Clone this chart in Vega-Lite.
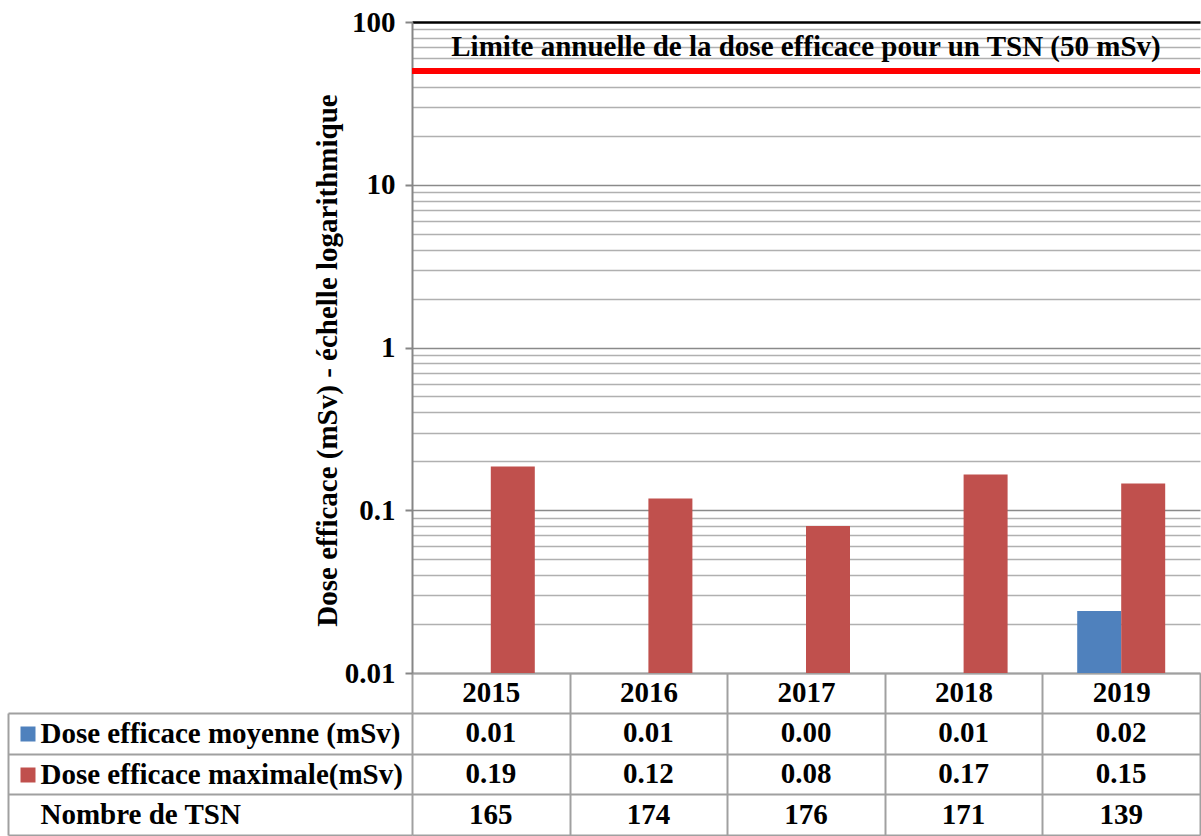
{
  "$schema": "https://vega.github.io/schema/vega-lite/v6.json",
  "padding": {"left": 7, "top": 8, "right": 0, "bottom": 0},
  "spacing": 40,
  "bounds": "flush",
  "resolve": {"scale": {"color": "independent"}, "legend": {"color": "independent"}},
  "config": {
    "font": "Liberation Serif",
    "view": {"stroke": null},
    "axis": {"labelFont": "Liberation Serif", "titleFont": "Liberation Serif", "labelFontWeight": "bold", "titleFontWeight": "bold", "labelColor": "black", "titleColor": "black"}
  },
  "datasets": {
    "doses": [
      {"annee": "2015", "serie": "Dose efficace moyenne (mSv)", "dose": 0.01},
      {"annee": "2015", "serie": "Dose efficace maximale(mSv)", "dose": 0.186},
      {"annee": "2016", "serie": "Dose efficace moyenne (mSv)", "dose": 0.01},
      {"annee": "2016", "serie": "Dose efficace maximale(mSv)", "dose": 0.118},
      {"annee": "2017", "serie": "Dose efficace moyenne (mSv)", "dose": 0.004},
      {"annee": "2017", "serie": "Dose efficace maximale(mSv)", "dose": 0.08},
      {"annee": "2018", "serie": "Dose efficace moyenne (mSv)", "dose": 0.01},
      {"annee": "2018", "serie": "Dose efficace maximale(mSv)", "dose": 0.166},
      {"annee": "2019", "serie": "Dose efficace moyenne (mSv)", "dose": 0.024},
      {"annee": "2019", "serie": "Dose efficace maximale(mSv)", "dose": 0.146}
    ],
    "tsn": [
      {"annee": "2015", "ligne": "Nombre de TSN", "n": 165},
      {"annee": "2016", "ligne": "Nombre de TSN", "n": 174},
      {"annee": "2017", "ligne": "Nombre de TSN", "n": 176},
      {"annee": "2018", "ligne": "Nombre de TSN", "n": 171},
      {"annee": "2019", "ligne": "Nombre de TSN", "n": 139}
    ]
  },
  "vconcat": [
    {
      "width": 788,
      "height": 651,
      "layer": [
        {
          "data": {"name": "doses"},
          "mark": {"type": "bar"},
          "encoding": {
            "x": {
              "field": "annee", "type": "nominal",
              "scale": {"paddingInner": 0, "paddingOuter": 0},
              "axis": {"title": null, "orient": "bottom", "tickBand": "extent", "tickSize": 40, "tickColor": "#a0a0a0", "tickWidth": 2, "domainColor": "#a0a0a0", "domainWidth": 2, "labelPadding": -21, "labelBaseline": "middle", "labelFontSize": 29, "labelAngle": 0, "grid": false}
            },
            "xOffset": {
              "field": "serie", "type": "nominal",
              "scale": {"domain": ["Dose efficace moyenne (mSv)", "Dose efficace maximale(mSv)"], "paddingInner": 0, "paddingOuter": 0.791}
            },
            "y": {
              "field": "dose", "type": "quantitative",
              "scale": {"type": "log", "domain": [0.01, 100], "nice": false, "clamp": true},
              "axis": {
                "title": "Dose efficace (mSv) - échelle logarithmique",
                "titleFontSize": 29,
                "titlePadding": 2,
                "titleY": 338,
                "values": [0.01,0.02,0.03,0.04,0.05,0.06,0.07,0.08,0.09,0.1,0.2,0.3,0.4,0.5,0.6,0.7,0.8,0.9,1,2,3,4,5,6,7,8,9,10,20,30,40,50,60,70,80,90,100],
                "labelExpr": "indexof([0.01,0.1,1,10,100], datum.value) >= 0 ? format(datum.value, '~g') : ''",
                "labelOverlap": false,
                "labelFontSize": 29,
                "labelPadding": 10,
                "tickSize": 7,
                "tickColor": "#868686",
                "tickWidth": 2,
                "tickOpacity": {"condition": {"test": "indexof([0.01,0.1,1,10,100], datum.value) >= 0", "value": 1}, "value": 0},
                "domainColor": "#868686",
                "domainWidth": 2,
                "grid": true,
                "gridColor": {"condition": [{"test": "datum.value === 100", "value": "black"}, {"test": "indexof([0.01,0.1,1,10], datum.value) >= 0", "value": "#8a8a8a"}], "value": "#b0b0b0"},
                "gridWidth": {"condition": {"test": "datum.value === 100", "value": 2.5}, "value": 1.6}
              }
            },
            "color": {
              "field": "serie", "type": "nominal",
              "scale": {"domain": ["Dose efficace moyenne (mSv)", "Dose efficace maximale(mSv)"], "range": ["#4f81bd", "#c0504d"]},
              "legend": null
            }
          }
        },
        {
          "data": {"values": [{}]},
          "mark": {"type": "rule", "color": "#ff0000", "strokeWidth": 6},
          "encoding": {"y": {"datum": 50, "type": "quantitative"}}
        },
        {
          "data": {"values": [{}]},
          "mark": {"type": "text", "fontSize": 29, "fontWeight": "bold", "font": "Liberation Serif", "color": "black", "baseline": "middle", "align": "center"},
          "encoding": {
            "y": {"datum": 70, "type": "quantitative"},
            "text": {"value": "Limite  annuelle de la dose efficace pour un TSN (50 mSv)"}
          }
        }
      ]
    },
    {
      "width": 788,
      "height": 122,
      "layer": [
        {
          "data": {"name": "doses"},
          "mark": {"type": "text", "fontSize": 29, "fontWeight": "bold", "font": "Liberation Serif", "color": "black", "baseline": "middle"},
          "encoding": {
            "x": {
              "field": "annee", "type": "nominal",
              "scale": {"paddingInner": 0, "paddingOuter": 0},
              "axis": {"title": null, "labels": false, "ticks": false, "domain": false, "grid": true, "tickBand": "extent", "gridColor": "#a0a0a0", "gridWidth": 2}
            },
            "y": {
              "field": "serie", "type": "nominal",
              "scale": {"domain": ["Dose efficace moyenne (mSv)", "Dose efficace maximale(mSv)", "Nombre de TSN"], "paddingInner": 0, "paddingOuter": 0},
              "axis": {"title": null, "orient": "left", "domain": false, "ticks": true, "tickBand": "extent", "tickSize": 404, "tickColor": "#a0a0a0", "tickWidth": 2, "labelAlign": "left", "labelBaseline": "middle", "labelPadding": -32, "labelFontSize": 29, "labelLimit": 0, "grid": true, "gridColor": "#a0a0a0", "gridWidth": 2}
            },
            "text": {"field": "dose", "type": "quantitative", "format": ".2f"}
          }
        },
        {
          "data": {"name": "tsn"},
          "mark": {"type": "text", "fontSize": 29, "fontWeight": "bold", "font": "Liberation Serif", "color": "black", "baseline": "middle"},
          "encoding": {
            "x": {"field": "annee", "type": "nominal"},
            "y": {
              "field": "ligne", "type": "nominal",
              "axis": {"title": null, "orient": "left", "offset": 404, "domain": true, "domainColor": "#a0a0a0", "domainWidth": 2, "ticks": false, "labels": false, "grid": false}
            },
            "text": {"field": "n", "type": "quantitative", "format": "d"}
          }
        },
        {
          "data": {"name": "doses"},
          "mark": {"type": "square", "size": 0},
          "encoding": {
            "x": {"field": "annee", "type": "nominal"},
            "y": {"field": "serie", "type": "nominal", "axis": null},
            "color": {
              "field": "serie", "type": "nominal",
              "scale": {"domain": ["Dose efficace moyenne (mSv)", "Dose efficace maximale(mSv)"], "range": ["#4f81bd", "#c0504d"]},
              "legend": {"orient": "none", "legendX": -394, "legendY": 11, "title": null, "labelExpr": "''", "symbolType": "square", "symbolSize": 225, "symbolOpacity": 1, "symbolStrokeWidth": 0, "rowPadding": 21, "padding": 0, "labelFontSize": 20}
            }
          }
        }
      ],
      "resolve": {"axis": {"y": "independent"}}
    }
  ]
}
